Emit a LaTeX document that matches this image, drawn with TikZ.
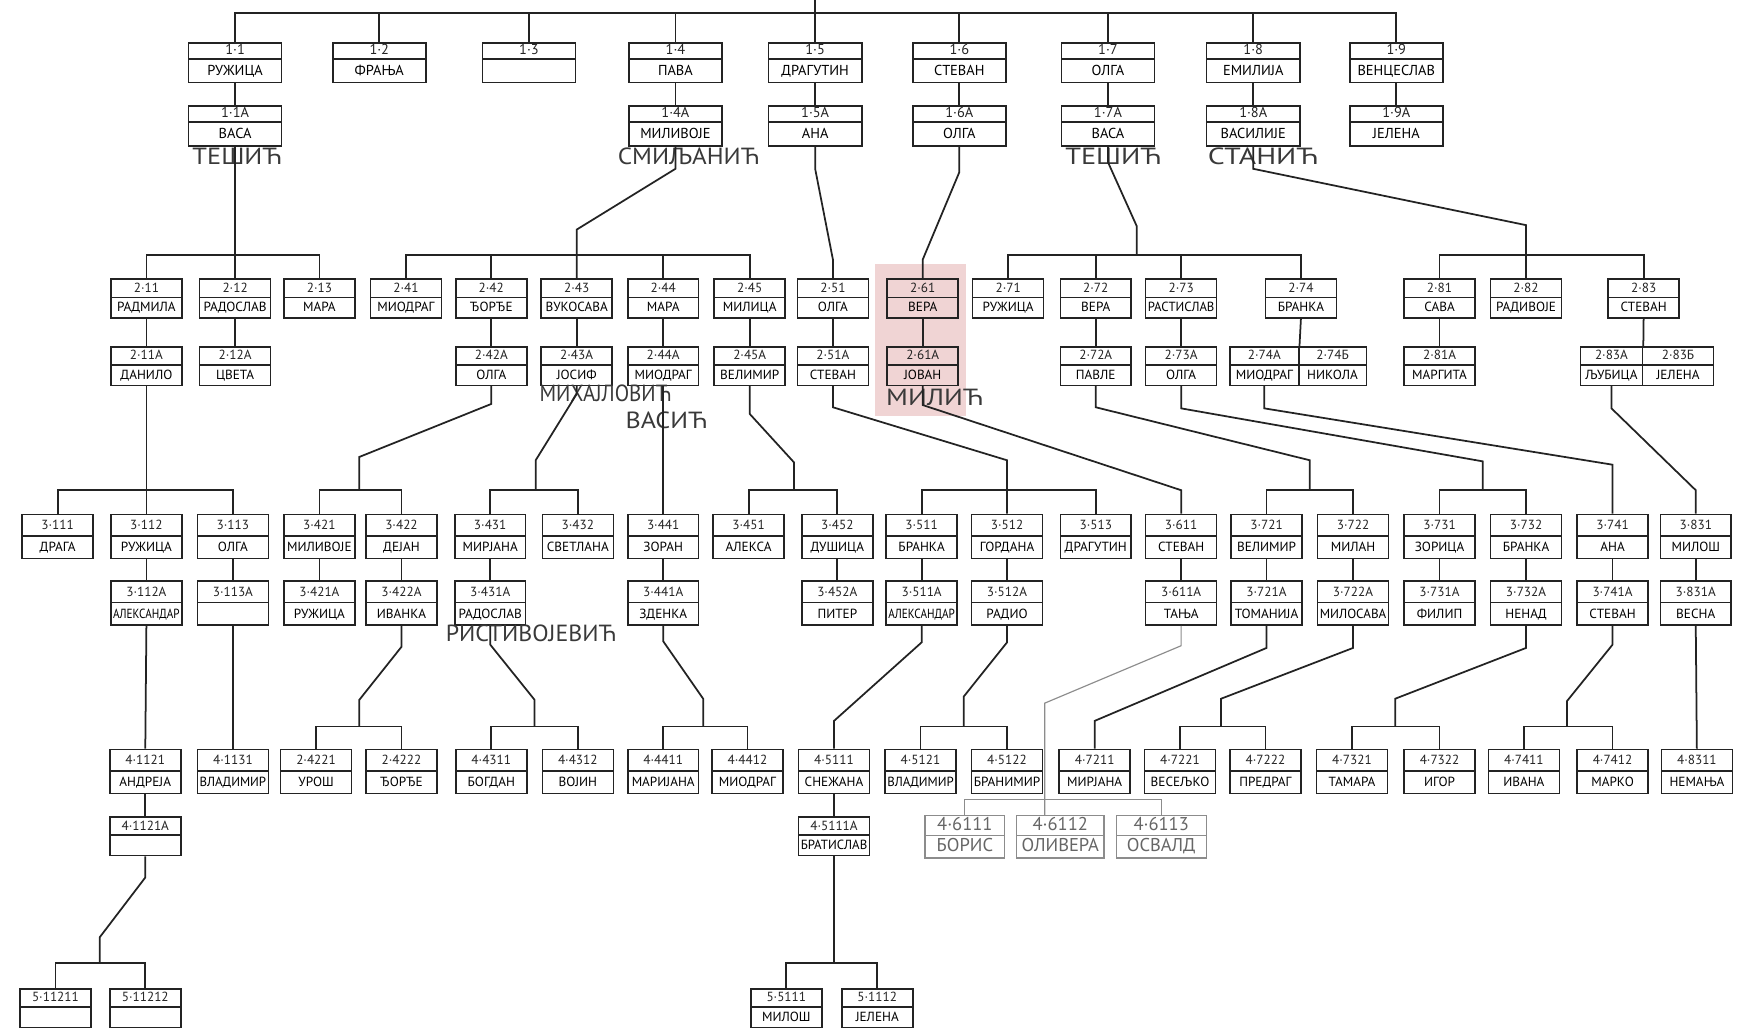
\documentclass[tikz,border=0pt]{standalone}
\usepackage{fontspec}
\setmainfont{PT Sans}
\usepackage{graphicx}
\usetikzlibrary{shapes.multipart,calc}
\definecolor{ink}{RGB}{35,35,35}
\definecolor{blush}{RGB}{240,212,212}
\newsavebox\fitbox
\newcommand\fitw[2]{\sbox\fitbox{#2}\ifdim\wd\fitbox>#1\relax\resizebox{#1}{\height}{\usebox\fitbox}\else\usebox\fitbox\fi}
\newcommand\stretchto[2]{\resizebox{#1}{\height}{#2}}
% box rows: generation 1, generation 2 and small rows, generation 3-4, pale boxes
\newcommand\ga[2]{\rule[-0.07cm]{0pt}{0.26cm}#1\nodepart{two}\rule[-0.12cm]{0pt}{0.40cm}\fitw{1.58cm}{#2}}
\newcommand\gb[2]{\rule[-0.08cm]{0pt}{0.30cm}#1\nodepart{two}\rule[-0.1cm]{0pt}{0.34cm}\fitw{1.2cm}{#2}}
\newcommand\gc[2]{\rule[-0.1cm]{0pt}{0.36cm}#1\nodepart{two}\rule[-0.11cm]{0pt}{0.38cm}\fitw{1.2cm}{#2}}
\newcommand\gd[2]{\color{black!60}\rule[-0.08cm]{0pt}{0.34cm}#1\nodepart{two}\color{black!60}\rule[-0.1cm]{0pt}{0.38cm}\fitw{1.45cm}{#2}}
\tikzset{
  pbox/.style={rectangle split, rectangle split parts=2, draw=ink, line width=0.8pt,
    inner xsep=1pt, inner ysep=0pt, minimum width=1.28cm, anchor=north, text=ink,
    font=\fontsize{6.8}{7.5}\selectfont},
  gen1/.style={pbox, minimum width=1.68cm, font=\fontsize{7.4}{8}\selectfont},
  pale/.style={pbox, draw=black!45, line width=0.6pt, font=\fontsize{9.5}{10}\selectfont},
  tie/.style={draw=ink, line width=0.9pt},
  pencil/.style={draw=black!45, line width=0.6pt},
  surname/.style={text=ink!90, font=\fontsize{12}{12}\selectfont, inner sep=0pt}
}
\begin{document}
\begin{tikzpicture}[x=0.02cm, y=-0.02cm]
\useasboundingbox (0,0) rectangle (1568,930);
\fill[blush] (789,238) rectangle (871,375);

% generation 1
\coordinate (root) at (735,0);
\node[gen1] (p11) at (212,38) {\ga{1·1}{РУЖИЦА}};
\node[gen1] (p12) at (342,38) {\ga{1·2}{ФРАЊА}};
\node[gen1] (p13) at (477,38) {\ga{1·3}{}};
\node[gen1] (p14) at (609,38) {\ga{1·4}{ПАВА}};
\node[gen1] (p15) at (735,38) {\ga{1·5}{ДРАГУТИН}};
\node[gen1] (p16) at (865,38) {\ga{1·6}{СТЕВАН}};
\node[gen1] (p17) at (999,38) {\ga{1·7}{ОЛГА}};
\node[gen1] (p18) at (1130,38) {\ga{1·8}{ЕМИЛИЈА}};
\node[gen1] (p19) at (1259,38) {\ga{1·9}{ВЕНЦЕСЛАВ}};
\node[gen1] (a11) at (212,95) {\ga{1·1А}{ВАСА}};
\node[gen1] (a14) at (609,95) {\ga{1·4А}{МИЛИВОЈЕ}};
\node[gen1] (a15) at (735,95) {\ga{1·5А}{АНА}};
\node[gen1] (a16) at (865,95) {\ga{1·6А}{ОЛГА}};
\node[gen1] (a17) at (999,95) {\ga{1·7А}{ВАСА}};
\node[gen1] (a18) at (1130,95) {\ga{1·8А}{ВАСИЛИЈЕ}};
\node[gen1] (a19) at (1259,95) {\ga{1·9А}{ЈЕЛЕНА}};

\node[surname] (tesic) at (214,141) {\stretchto{1.62cm}{ТЕШИЋ}};
\node[surname] (smiljanic) at (621,141) {\stretchto{2.56cm}{СМИЉАНИЋ}};
\node[surname] (tesic2) at (1004,141) {\stretchto{1.74cm}{ТЕШИЋ}};
\node[surname] (stanic) at (1139,141) {\stretchto{2.0cm}{СТАНИЋ}};

% generation 2
\node[pbox] (p211) at (132,251) {\gb{2·11}{РАДМИЛА}};
\node[pbox] (p212) at (212,251) {\gb{2·12}{РАДОСЛАВ}};
\node[pbox] (p213) at (288,251) {\gb{2·13}{МАРА}};
\node[pbox] (p241) at (366,251) {\gb{2·41}{МИОДРАГ}};
\node[pbox] (p242) at (443,251) {\gb{2·42}{ЂОРЂЕ}};
\node[pbox] (p243) at (520,251) {\gb{2·43}{ВУКОСАВА}};
\node[pbox] (p244) at (598,251) {\gb{2·44}{МАРА}};
\node[pbox] (p245) at (676,251) {\gb{2·45}{МИЛИЦА}};
\node[pbox] (p251) at (751,251) {\gb{2·51}{ОЛГА}};
\node[pbox] (p261) at (832,251) {\gb{2·61}{ВЕРА}};
\node[pbox] (p271) at (909,251) {\gb{2·71}{РУЖИЦА}};
\node[pbox] (p272) at (988,251) {\gb{2·72}{ВЕРА}};
\node[pbox] (p273) at (1065,251) {\gb{2·73}{РАСТИСЛАВ}};
\node[pbox] (p274) at (1173,251) {\gb{2·74}{БРАНКА}};
\node[pbox] (p281) at (1298,251) {\gb{2·81}{САВА}};
\node[pbox] (p282) at (1376,251) {\gb{2·82}{РАДИВОЈЕ}};
\node[pbox] (p283) at (1482,251) {\gb{2·83}{СТЕВАН}};
\node[pbox] (a211) at (132,312) {\gb{2·11А}{ДАНИЛО}};
\node[pbox] (a212) at (212,312) {\gb{2·12А}{ЦВЕТА}};
\node[pbox] (a242) at (443,312) {\gb{2·42А}{ОЛГА}};
\node[pbox] (a243) at (520,312) {\gb{2·43А}{ЈОСИФ}};
\node[pbox] (a244) at (598,312) {\gb{2·44А}{МИОДРАГ}};
\node[pbox] (a245) at (676,312) {\gb{2·45А}{ВЕЛИМИР}};
\node[pbox] (a251) at (751,312) {\gb{2·51А}{СТЕВАН}};
\node[pbox] (a261) at (832,312) {\gb{2·61А}{ЈОВАН}};
\node[pbox] (a272) at (988,312) {\gb{2·72А}{ПАВЛЕ}};
\node[pbox] (a273) at (1065,312) {\gb{2·73А}{ОЛГА}};
\node[pbox, minimum width=1.24cm] (a274) at (1140,312) {\gb{2·74А}{МИОДРАГ}};
\node[pbox, minimum width=1.22cm] (b274) at (1201.5,312) {\gb{2·74Б}{НИКОЛА}};
\node[pbox] (a281) at (1298,312) {\gb{2·81А}{МАРГИТА}};
\node[pbox, minimum width=1.12cm] (a283) at (1453,312) {\gb{2·83А}{ЉУБИЦА}};
\node[pbox, minimum width=1.28cm] (b283) at (1513,312) {\gb{2·83Б}{ЈЕЛЕНА}};

\node[surname] (mihajlovic) at (546,355) {\stretchto{2.38cm}{МИХАЈЛОВИЋ}};
\node[surname] (vasic) at (601,379) {\stretchto{1.48cm}{ВАСИЋ}};
\node[surname] (milic) at (843,358) {\stretchto{1.76cm}{МИЛИЋ}};

% generation 3
\node[pbox] (p3111) at (52,463) {\gc{3·111}{ДРАГА}};
\node[pbox] (p3112) at (132,463) {\gc{3·112}{РУЖИЦА}};
\node[pbox] (p3113) at (210,463) {\gc{3·113}{ОЛГА}};
\node[pbox] (p3421) at (288,463) {\gc{3·421}{МИЛИВОЈЕ}};
\node[pbox] (p3422) at (362,463) {\gc{3·422}{ДЕЈАН}};
\node[pbox] (p3431) at (442,463) {\gc{3·431}{МИРЈАНА}};
\node[pbox] (p3432) at (521,463) {\gc{3·432}{СВЕТЛАНА}};
\node[pbox] (p3441) at (598,463) {\gc{3·441}{ЗОРАН}};
\node[pbox] (p3451) at (675,463) {\gc{3·451}{АЛЕКСА}};
\node[pbox] (p3452) at (755,463) {\gc{3·452}{ДУШИЦА}};
\node[pbox] (p3511) at (831,463) {\gc{3·511}{БРАНКА}};
\node[pbox] (p3512) at (908,463) {\gc{3·512}{ГОРДАНА}};
\node[pbox] (p3513) at (988,463) {\gc{3·513}{ДРАГУТИН}};
\node[pbox] (p3611) at (1065,463) {\gc{3·611}{СТЕВАН}};
\node[pbox] (p3721) at (1142,463) {\gc{3·721}{ВЕЛИМИР}};
\node[pbox] (p3722) at (1220,463) {\gc{3·722}{МИЛАН}};
\node[pbox] (p3731) at (1298,463) {\gc{3·731}{ЗОРИЦА}};
\node[pbox] (p3732) at (1376,463) {\gc{3·732}{БРАНКА}};
\node[pbox] (p3741) at (1454,463) {\gc{3·741}{АНА}};
\node[pbox] (p3831) at (1529,463) {\gc{3·831}{МИЛОШ}};
\node[pbox] (a3112) at (132,523) {\gc{3·112А}{АЛЕКСАНДАР}};
\node[pbox] (a3113) at (210,523) {\gc{3·113А}{}};
\node[pbox] (a3421) at (288,523) {\gc{3·421А}{РУЖИЦА}};
\node[pbox] (a3422) at (362,523) {\gc{3·422А}{ИВАНКА}};
\node[pbox] (a3431) at (442,523) {\gc{3·431А}{РАДОСЛАВ}};
\node[pbox] (a3441) at (598,523) {\gc{3·441А}{ЗДЕНКА}};
\node[pbox] (a3452) at (755,523) {\gc{3·452А}{ПИТЕР}};
\node[pbox] (a3511) at (831,523) {\gc{3·511А}{АЛЕКСАНДАР}};
\node[pbox] (a3512) at (908,523) {\gc{3·512А}{РАДИО}};
\node[pbox] (a3611) at (1065,523) {\gc{3·611А}{ТАЊА}};
\node[pbox] (a3721) at (1142,523) {\gc{3·721А}{ТОМАНИЈА}};
\node[pbox] (a3722) at (1220,523) {\gc{3·722А}{МИЛОСАВА}};
\node[pbox] (a3731) at (1298,523) {\gc{3·731А}{ФИЛИП}};
\node[pbox] (a3732) at (1376,523) {\gc{3·732А}{НЕНАД}};
\node[pbox] (a3741) at (1454,523) {\gc{3·741А}{СТЕВАН}};
\node[pbox] (a3831) at (1529,523) {\gc{3·831А}{ВЕСНА}};

\node[surname] (ristivojevic) at (479,571) {\stretchto{3.08cm}{РИСТИВОЈЕВИЋ}};

% generation 4
\node[pbox] (p41121) at (131,675) {\gc{4·1121}{АНДРЕЈА}};
\node[pbox] (p41131) at (210,675) {\gc{4·1131}{ВЛАДИМИР}};
\node[pbox] (p44221) at (285,675) {\gc{2·4221}{УРОШ}};
\node[pbox] (p44222) at (362,675) {\gc{2·4222}{ЂОРЂЕ}};
\node[pbox] (p44311) at (443,675) {\gc{4·4311}{БОГДАН}};
\node[pbox] (p44312) at (521,675) {\gc{4·4312}{ВОЈИН}};
\node[pbox] (p44411) at (598,675) {\gc{4·4411}{МАРИЈАНА}};
\node[pbox] (p44412) at (674,675) {\gc{4·4412}{МИОДРАГ}};
\node[pbox] (p45111) at (752,675) {\gc{4·5111}{СНЕЖАНА}};
\node[pbox] (p45121) at (830,675) {\gc{4·5121}{ВЛАДИМИР}};
\node[pbox] (p45122) at (908,675) {\gc{4·5122}{БРАНИМИР}};
\node[pbox] (p47211) at (987,675) {\gc{4·7211}{МИРЈАНА}};
\node[pbox] (p47221) at (1064,675) {\gc{4·7221}{ВЕСЕЉКО}};
\node[pbox] (p47222) at (1141,675) {\gc{4·7222}{ПРЕДРАГ}};
\node[pbox] (p47321) at (1219,675) {\gc{4·7321}{ТАМАРА}};
\node[pbox] (p47322) at (1298,675) {\gc{4·7322}{ИГОР}};
\node[pbox] (p47411) at (1374,675) {\gc{4·7411}{ИВАНА}};
\node[pbox] (p47412) at (1454,675) {\gc{4·7412}{МАРКО}};
\node[pbox] (p48311) at (1530,675) {\gc{4·8311}{НЕМАЊА}};
\node[pbox] (a41121) at (131,736) {\gb{4·1121А}{}};
\node[pbox] (a45111) at (752,736) {\gb{4·5111А}{БРАТИСЛАВ}};
\node[pale, minimum width=1.44cm] (p46111) at (870,735) {\gd{4·6111}{БОРИС}};
\node[pale, minimum width=1.58cm] (p46112) at (956,735) {\gd{4·6112}{ОЛИВЕРА}};
\node[pale, minimum width=1.62cm] (p46113) at (1047,735) {\gd{4·6113}{ОСВАЛД}};

% generation 5
\node[pbox] (p511211) at (50,891) {\gb{5·11211}{}};
\node[pbox] (p511212) at (131,891) {\gb{5·11212}{}};
\node[pbox] (p55111) at (709,891) {\gb{5·5111}{МИЛОШ}};
\node[pbox] (p51112) at (791,891) {\gb{5·1112}{ЈЕЛЕНА}};

% junctions on the bars
\coordinate (j17) at (1025,230);
\coordinate (j242) at (324,442);
\coordinate (j243) at (483,442);
\coordinate (j245) at (716,442);
\coordinate (j272) at (1181,442);
\coordinate (j273) at (1337,442);
\coordinate (j3422) at (324,655);
\coordinate (j3431) at (482,655);
\coordinate (j3441) at (634,655);
\coordinate (j3512) at (869,655);
\coordinate (j3722) at (1101,655);
\coordinate (j3732) at (1258,655);
\coordinate (j3741) at (1413,655);
\coordinate (j41121) at (90,868);
\coordinate (j45111) at (752,868);

% lines, generation 1
\draw[tie] (root) -- (p15.north);
\draw[tie] (p11.north) -- ++(0,-26) -| (p19.north);
\foreach \n in {12,13,14,16,17,18} \draw[tie] (p\n.north) -- ++(0,-26);
\foreach \n in {11,14,15,16,17,18,19} \draw[tie] (p\n.south) -- (a\n.north);

% lines, generation 2
\draw[tie] (a11.south) -- (p212.north);
\draw[tie] (p211.north) -- ++(0,-21) -| (p213.north);
\draw[tie] (a14.south) -- ++(0,20) -- (520,207) -- (p243.north);
\draw[tie] (p241.north) -- ++(0,-21) -| (p245.north);
\foreach \n in {242,244} \draw[tie] (p\n.north) -- ++(0,-21);
\draw[tie] (a15.south) -- ++(0,20) -- (751,234) -- (p251.north);
\draw[tie] (a16.south) -- ++(0,23) -- (832,234) -- (p261.north);
\draw[tie] (a17.south) -- ++(0,14) -- (1025,204) -- (j17);
\draw[tie] (p271.north) -- ++(0,-21) -| (p274.north);
\foreach \n in {272,273} \draw[tie] (p\n.north) -- ++(0,-21);
\draw[tie] (a18.south) -- ++(0,20) -- (1376,203) -- (p282.north);
\draw[tie] (p281.north) -- ++(0,-21) -| (p283.north);
\foreach \n in {211,212,242,243,244,245,251,261,272,273,281} \draw[tie] (p\n.south) -- (a\n.north);
\draw[tie] (p274.south) -- (a274.north east);
\draw[tie] (p283.south) -- (a283.north east);

% lines, generation 3
\draw[tie] (a211.south) -- (p3112.north);
\draw[tie] (p3111.north) -- ++(0,-21) -| (p3113.north);
\draw[tie] (a242.south) -- ++(0,16) -- (324,412) -- (j242);
\draw[tie] (p3421.north) -- ++(0,-21) -| (p3422.north);
\draw[tie] (a243.south) -- ++(0,7) -- (483,415) -- (j243);
\draw[tie] (p3431.north) -- ++(0,-21) -| (p3432.north);
\draw[tie] (a244.south) -- (p3441.north);
\draw[tie] (a245.south) -- ++(0,25) -- (716,417) -- (j245);
\draw[tie] (p3451.north) -- ++(0,-21) -| (p3452.north);
\draw[tie] (a251.south) -- ++(0,19) -- (908,415) -- (p3512.north);
\draw[tie] (p3511.north) -- ++(0,-21) -| (p3513.north);
\draw[tie] (a261.south) -- ++(0,17) -- (1065,442) -- (p3611.north);
\draw[tie] (a272.south) -- ++(0,19) -- (1181,415) -- (j272);
\draw[tie] (p3721.north) -- ++(0,-21) -| (p3722.north);
\draw[tie] (a273.south) -- ++(0,20) -- (1337,416) -- (j273);
\draw[tie] (p3731.north) -- ++(0,-21) -| (p3732.north);
\draw[tie] (a274.south) -- ++(0,20) -- (1454,419) -- (p3741.north);
\draw[tie] (a283.south) -- ++(0,20) -- (1529,442) -- (p3831.north);
\foreach \n in {3112,3113,3421,3422,3431,3441,3452,3511,3512,3611,3721,3722,3731,3732,3741,3831}
  \draw[tie] (p\n.south) -- (a\n.north);

% lines, generation 4
\draw[tie] (a3112.south) -- (p41121.north);
\draw[tie] (a3113.south) -- (p41131.north);
\draw[tie] (a3422.south) -- ++(0,19) -- (324,631) -- (j3422);
\draw[tie] (p44221.north) -- ++(0,-20) -| (p44222.north);
\draw[tie] (a3431.south) -- ++(0,17) -- (482,631) -- (j3431);
\draw[tie] (p44311.north) -- ++(0,-20) -| (p44312.north);
\draw[tie] (a3441.south) -- ++(0,14) -- (634,630) -- (j3441);
\draw[tie] (p44411.north) -- ++(0,-20) -| (p44412.north);
\draw[tie] (a3511.south) -- ++(0,15) -- (752,650) -- (p45111.north);
\draw[tie] (a3512.south) -- ++(0,15) -- (869,628) -- (j3512);
\draw[tie] (p45121.north) -- ++(0,-20) -| (p45122.north);
\draw[tie] (a3721.south) -- ++(0,20) -- (987,650) -- (p47211.north);
\draw[tie] (a3722.south) -- ++(0,20) -- (1101,630) -- (j3722);
\draw[tie] (p47221.north) -- ++(0,-20) -| (p47222.north);
\draw[tie] (a3732.south) -- ++(0,20) -- (1258,630) -- (j3732);
\draw[tie] (p47321.north) -- ++(0,-20) -| (p47322.north);
\draw[tie] (a3741.south) -- ++(0,17) -- (1413,632) -- (j3741);
\draw[tie] (p47411.north) -- ++(0,-20) -| (p47412.north);
\draw[tie] (a3831.south) -- (p48311.north);
\draw[pencil] (a3611.south) -- ++(0,18) -- (942,634) -- (942,634 |- p46112.north);
\draw[pencil] (p46111.north) -- ++(0,-14) -| (p46113.north);
\draw[tie] (p41121.south) -- (a41121.north);
\draw[tie] (p45111.south) -- (a45111.north);

% lines, generation 5
\draw[tie] (a41121.south) -- ++(0,19) -- (90,845) -- (j41121);
\draw[tie] (p511211.north) -- ++(0,-23) -| (p511212.north);
\draw[tie] (a45111.south) -- (j45111);
\draw[tie] (p55111.north) -- ++(0,-23) -| (p51112.north);
\end{tikzpicture}
\end{document}
